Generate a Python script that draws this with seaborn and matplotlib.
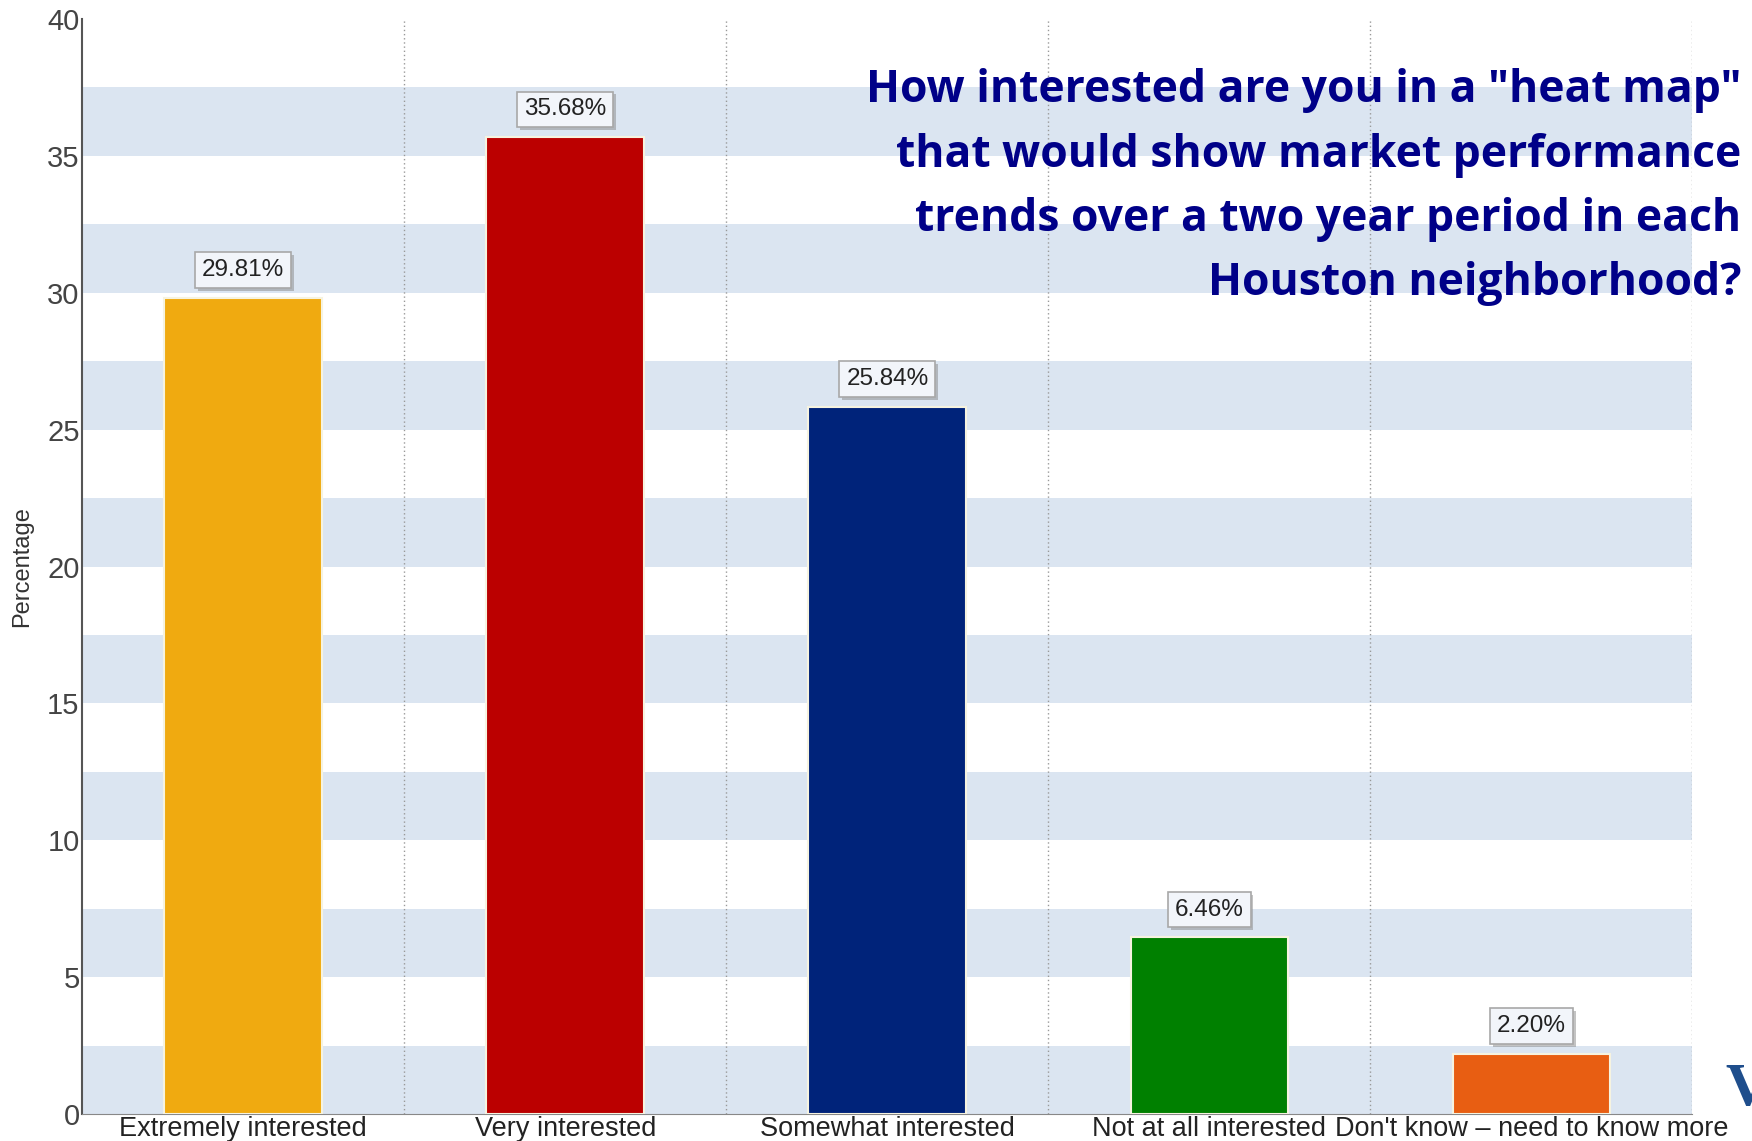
import pandas as pd
import matplotlib.pyplot as plt
import matplotlib.patheffects as pe
import seaborn as sns

# chart data
categories = ["Extremely interested", "Very interested", "Somewhat interested",
              "Not at all interested", "Don't know \u2013 need to know more"]
percentages = [29.81, 35.68, 25.84, 6.46, 2.20]
bar_colors = ["#F0AA10", "#BB0000", "#00237A", "#008000", "#E85E12"]
y_ticks = [0, 5, 10, 15, 20, 25, 30, 35, 40]

title_lines = ['How interested are you in a "heat map"',
               "that would show market performance",
               "trends over a two year period in each",
               "Houston neighborhood?"]

df = pd.DataFrame({"answer": categories, "pct": percentages})

sns.set_style("white")
plt.rcParams["font.family"] = ["Liberation Sans", "DejaVu Sans"]

fig = plt.figure(figsize=(17.52, 11.41), dpi=100)
ax = fig.add_axes([0.047, 0.0235, 0.919, 0.96])

# alternating horizontal bands
for k in range(8):
    ax.axhspan(5 * k, 5 * k + 2.5, color="#DBE5F1", zorder=0, lw=0)

# dotted vertical separators between categories
for xb in [0.5, 1.5, 2.5, 3.5, 4.5]:
    ax.axvline(xb, color="#999999", ls=(0, (1, 2)), lw=1, zorder=1)

sns.barplot(data=df, x="answer", y="pct", hue="answer", palette=bar_colors,
            saturation=1, legend=False, width=0.49, edgecolor="#F6F3E0",
            linewidth=1.5, ax=ax, zorder=3)

for i, v in enumerate(percentages):
    t = ax.annotate(f"{v:.2f}%", (i, v), xytext=(0, 12), textcoords="offset points",
                    ha="center", va="bottom", fontsize=17.5, color="#222222", zorder=5,
                    bbox=dict(boxstyle="square,pad=0.28", fc="#F2F5FA", ec="#A8A8A8", lw=1.2))
    t.get_bbox_patch().set_path_effects(
        [pe.SimplePatchShadow(offset=(2, -2), shadow_rgbFace="#888888", alpha=0.5), pe.Normal()])

ax.set_xlim(-0.5, 4.5)
ax.set_ylim(0, 40)
ax.set_yticks(y_ticks)
ax.tick_params(axis="y", labelsize=21, labelcolor="#444444", length=0, pad=2)
ax.tick_params(axis="x", labelsize=19.5, labelcolor="#222222", length=0, pad=1)
ax.set_xlabel("")
ax.set_ylabel("Percentage", fontsize=17, color="#333333", labelpad=10)

for side in ["top", "right"]:
    ax.spines[side].set_visible(False)
ax.spines["left"].set_color("#555555")
ax.spines["left"].set_linewidth(1.5)
ax.spines["bottom"].set_color("#888888")

fig.text(0.994, 0.94, "\n".join(title_lines), ha="right", va="top",
         fontsize=32, fontweight="bold", color="#000088", linespacing=1.56,
         family=["Open Sans", "DejaVu Sans"])

# partial logo letter at the bottom-right edge
fig.text(0.985, 0.02, "V", ha="left", va="bottom", fontsize=44, fontweight="bold",
         color="#1F4E8C", family=["Liberation Serif", "DejaVu Serif"])

fig.savefig("out.png", dpi=100)
